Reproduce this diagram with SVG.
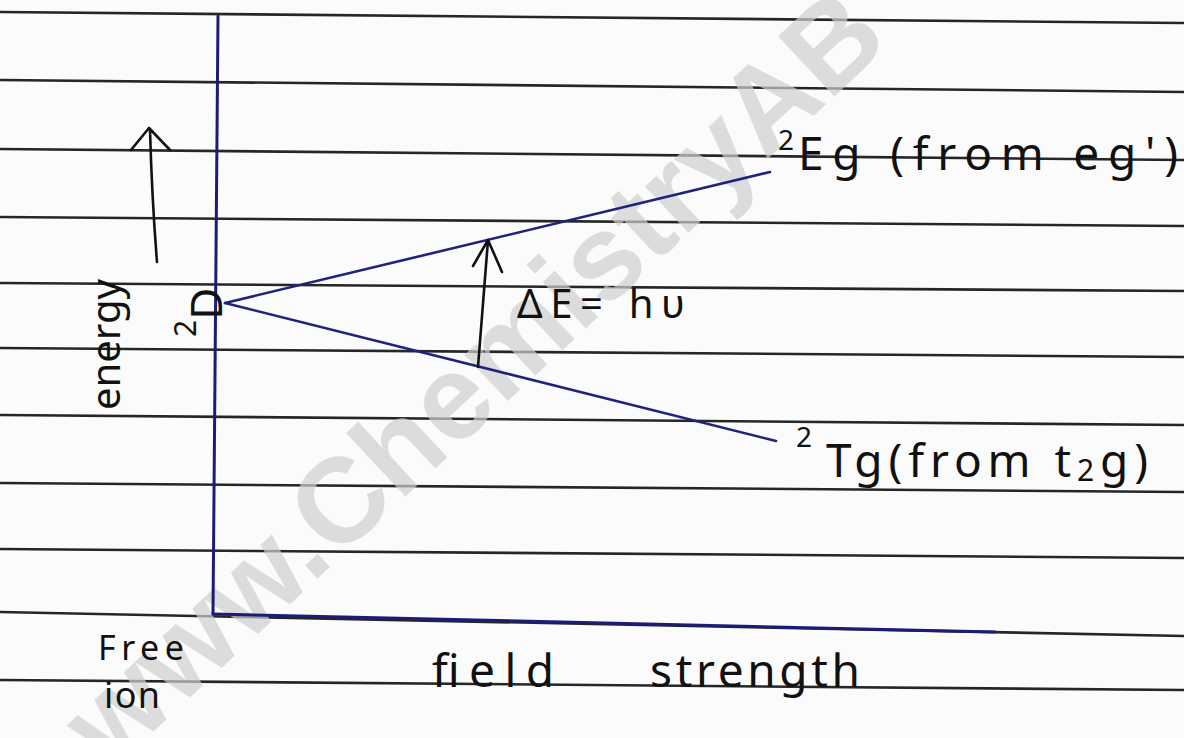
<svg xmlns="http://www.w3.org/2000/svg" width="1184" height="738" viewBox="0 0 1184 738">
<style>
.rule{stroke:#262626;stroke-width:2.6;fill:none}
.axis{stroke:#1c1c78;stroke-width:3;fill:none;stroke-linecap:round}
.lvl{stroke:#22227e;stroke-width:2.6;fill:none;stroke-linecap:round}
.ink{stroke:#111;stroke-width:2.6;fill:none;stroke-linecap:round;stroke-linejoin:round}
.hw{font-family:"Noto Sans","DejaVu Sans",sans-serif;fill:#111}
.wm{font-family:"Liberation Sans",Arial,sans-serif;font-weight:bold;fill:#cfcfcf;fill-opacity:0.7}
</style>
<rect width="1184" height="738" fill="#fbfbfb"/>
<g id="rules">
<line class="rule" x1="0" y1="12" x2="1184" y2="23"/>
<line class="rule" x1="0" y1="80" x2="1184" y2="92"/>
<line class="rule" x1="0" y1="149" x2="1184" y2="160"/>
<line class="rule" x1="0" y1="217" x2="1184" y2="226"/>
<line class="rule" x1="0" y1="283" x2="1184" y2="291"/>
<line class="rule" x1="0" y1="348" x2="1184" y2="357"/>
<line class="rule" x1="0" y1="415" x2="1184" y2="425"/>
<line class="rule" x1="0" y1="483" x2="1184" y2="492"/>
<line class="rule" x1="0" y1="549" x2="1184" y2="558"/>
<line class="rule" x1="0" y1="612" x2="1184" y2="636"/>
<line class="rule" x1="0" y1="680" x2="1184" y2="690"/>
</g>
<text class="wm" font-size="120" transform="translate(110,772) rotate(-43)">www.ChemistryAB</text>
<g id="axes">
<line class="axis" x1="218" y1="16" x2="213" y2="614"/>
<line class="axis" x1="213" y1="614" x2="995" y2="632"/>
</g>
<g id="connectors">
<line class="lvl" x1="225" y1="303" x2="770" y2="172"/>
<line class="lvl" x1="225" y1="303" x2="776" y2="441"/>
<path class="ink" d="M157,262 Q152,200 150,130 M131,150 L149,128 L170,150"/>
<path class="ink" d="M478,367 L488,240 M473,266 L488,240 L502,272"/>
</g>
<g id="energy-label">
<text class="hw" font-size="40" transform="translate(120,410) rotate(-90)">energy</text>
<text class="hw" font-size="44" transform="translate(222,337) rotate(-90)"><tspan font-size="30" dy="-26">2</tspan><tspan dy="26">D</tspan></text>
</g>
<g id="eg-label">
<text class="hw" font-size="28" x="778" y="150">2</text>
<text class="hw" font-size="46" x="798" y="170" textLength="380" lengthAdjust="spacing">Eg (from eg')</text>
</g>
<g id="tg-label">
<text class="hw" font-size="28" x="796" y="447">2</text>
<text class="hw" font-size="46" x="826" y="477" textLength="322" lengthAdjust="spacing">Tg(from t<tspan font-size="30" dy="4">2</tspan><tspan dy="-4">g)</tspan></text>
</g>
<g id="delta-label">
<text class="hw" font-size="40" x="517" y="318" textLength="168" lengthAdjust="spacing">ΔE= hυ</text>
</g>
<g id="x-labels">
<text class="hw" font-size="34" x="98" y="660" textLength="86" lengthAdjust="spacing">Free</text>
<text class="hw" font-size="36" x="104" y="708" textLength="56" lengthAdjust="spacing">ion</text>
<text class="hw" font-size="46" x="432" y="687" textLength="122" lengthAdjust="spacing">field</text>
<text class="hw" font-size="46" x="650" y="687" textLength="210" lengthAdjust="spacing">strength</text>
</g>
</svg>
